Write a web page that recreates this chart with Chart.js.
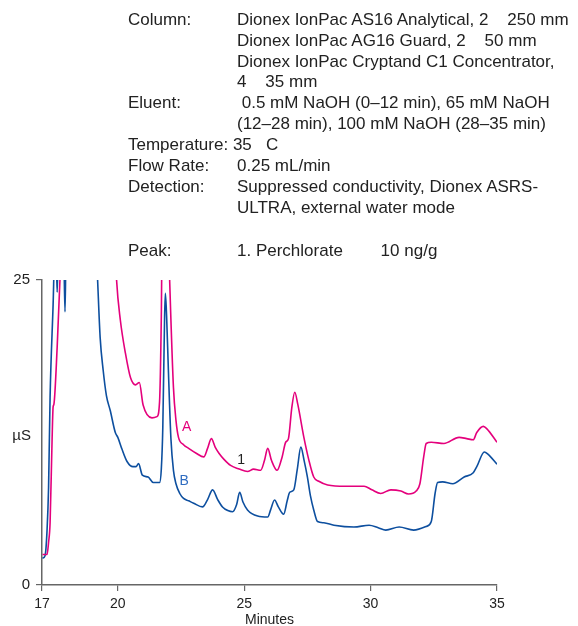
<!DOCTYPE html>
<html>
<head>
<meta charset="utf-8">
<script src="https://cdn.jsdelivr.net/npm/chart.js@4.4.1/dist/chart.umd.min.js"></script>
<style>
  html, body { margin: 0; padding: 0; background: #fff; }
  #wrap { position: relative; width: 578px; height: 626px; }
  #chart { position: absolute; left: 0; top: 0; }
  .info { position: absolute; font-family: "Liberation Sans", Arial, sans-serif; font-size: 17px; color: #222; white-space: pre; line-height: 20.8px; }
</style>
</head>
<body>
<div id="wrap">
  <canvas id="chart" width="578" height="626"></canvas>
  <div class="info" style="left:128px; top:10px;">Column:</div>
  <div class="info" style="left:237px; top:10px;">Dionex IonPac AS16 Analytical, 2    250 mm
Dionex IonPac AG16 Guard, 2    50 mm
Dionex IonPac Cryptand C1 Concentrator,
4    35 mm</div>
  <div class="info" style="left:128px; top:93px;">Eluent:</div>
  <div class="info" style="left:237px; top:93px;"> 0.5 mM NaOH (0–12 min), 65 mM NaOH
(12–28 min), 100 mM NaOH (28–35 min)</div>
  <div class="info" style="left:128px; top:135px;">Temperature: 35   C
Flow Rate:
Detection:</div>
  <div class="info" style="left:237px; top:156px;">0.25 mL/min
Suppressed conductivity, Dionex ASRS-
ULTRA, external water mode</div>
  <div class="info" style="left:128px; top:241px;">Peak:</div>
  <div class="info" style="left:237px; top:241px;">1. Perchlorate        10 ng/g</div>
</div>
<script>
// Axis ticks
const xTicks = [17, 20, 25, 30, 35];
const yTicks = [0, 25];

// Trace A (pink) - minutes / µS (values above 25 are off scale)
const timeA = [17.02, 17.2, 17.26, 17.32, 17.4, 17.44, 17.47, 17.6, 17.71, 17.78, 19.85, 19.95,
  20.1, 20.3, 20.5, 20.7, 20.85, 21.0, 21.35, 21.55, 21.65, 21.72, 21.76, 21.98, 22.05,
  22.2, 22.3, 22.4, 22.6, 22.8, 23.1, 23.4, 23.55, 23.7, 23.85, 24.0, 24.2, 24.46, 24.8,
  25.13, 25.37, 25.65, 25.8, 25.93, 26.08, 26.3, 26.5, 26.64, 26.75, 26.88, 27.0, 27.12,
  27.36, 27.55, 27.75, 27.95, 28.3, 29.0, 29.74, 30.05, 30.4, 30.8, 31.2, 31.5, 31.8,
  31.95, 32.1, 32.2, 32.4, 32.9, 33.5, 33.8, 34.06, 34.2, 34.46, 34.6, 35.0];
const signalA = [2.5, 2.5, 3.5, 5.1, 12, 14.6, 14.8, 19.5, 25, 30, 30, 25,
  21.7, 19.0, 17.0, 16.4, 16.6, 14.75, 13.7, 13.8, 15, 22, 30, 30, 25,
  16.2, 13.5, 12.1, 11.5, 11.2, 10.8, 10.5, 11.2, 12.0, 11.3, 10.8, 10.3, 9.8, 9.5,
  9.3, 9.5, 9.4, 10.2, 11.2, 10.2, 9.4, 10.5, 11.7, 12.0, 14.5, 15.8, 14.8,
  12.1, 10.3, 8.85, 8.5, 8.2, 8.1, 8.1, 7.8, 7.5, 7.8, 7.7, 7.46, 7.7,
  8.3, 10.5, 11.6, 11.7, 11.6, 12.1, 12.0, 11.9, 12.5, 13.0, 12.8, 11.7];

// Trace B (blue)
const timeB = [17.02, 17.12, 17.2, 17.26, 17.32, 17.44, 17.5, 17.56, 17.6, 17.64, 17.86, 17.91,
  17.95, 19.1, 19.2, 19.3, 19.42, 19.55, 19.7, 19.9, 20.0, 20.17, 20.37, 20.6, 20.72,
  20.82, 20.97, 21.2, 21.4, 21.65, 21.72, 21.78, 21.85, 21.88, 21.93, 22.0, 22.1, 22.2,
  22.3, 22.45, 22.6, 22.8, 23.0, 23.35, 23.55, 23.75, 23.95, 24.14, 24.35, 24.54, 24.7,
  24.82, 24.95, 25.13, 25.53, 25.93, 26.05, 26.2, 26.35, 26.56, 26.7, 26.8, 26.96, 27.1,
  27.24, 27.37, 27.5, 27.62, 27.75, 27.9, 28.15, 28.55, 29.34, 29.94, 30.3, 30.6, 31.13,
  31.7, 32.2, 32.4, 32.55, 32.65, 32.85, 33.25, 33.7, 34.06, 34.2, 34.5, 34.65, 35.0];
const signalB = [2.2, 2.4, 4.5, 8, 15.4, 23, 27, 27, 24, 27, 27, 22.4,
  27, 30, 25, 20.3, 17.6, 15.5, 14.3, 12.5, 12.1, 11.1, 10.1, 9.7, 9.7,
  9.95, 9.0, 8.85, 8.4, 8.4, 9.5, 13, 22, 23.9, 22, 17.6, 12, 9.4,
  8.3, 7.5, 7.1, 6.9, 6.7, 6.4, 7.0, 7.8, 7.0, 6.4, 6.1, 6.0, 6.6,
  7.6, 6.8, 6.15, 5.65, 5.57, 6.2, 6.97, 6.4, 5.8, 6.9, 7.6, 7.8, 9.5,
  11.3, 10.2, 8.85, 7.3, 6.15, 5.2, 5.1, 4.9, 4.75, 4.9, 4.7, 4.5, 4.75,
  4.5, 4.8, 5.2, 7.5, 8.4, 8.45, 8.3, 8.85, 9.2, 9.7, 10.9, 10.7, 9.9];

// Labels placed on the plot: [text, minutes, µS, color]
const traceLabels = [
  ['A', 22.72, 12.9, '#e4007c'],
  ['B', 22.62, 8.5, '#2f6cc0'],
  ['1', 24.88, 10.2, '#222']
];

const toPoints = (xs, ys) => xs.map((x, i) => ({ x: x, y: ys[i] }));

const labelPlugin = {
  id: 'traceLabels',
  afterDatasetsDraw(chart) {
    const { ctx, scales } = chart;
    ctx.save();
    ctx.font = '14px "Liberation Sans", Arial, sans-serif';
    ctx.textAlign = 'center';
    ctx.textBaseline = 'middle';
    traceLabels.forEach(([t, x, y, c]) => {
      ctx.fillStyle = c;
      ctx.fillText(t, scales.x.getPixelForValue(x), scales.y.getPixelForValue(y));
    });
    // unit label on the y axis
    ctx.fillStyle = '#222';
    ctx.textAlign = 'right';
    ctx.font = '15px "Liberation Sans", Arial, sans-serif';
    ctx.fillText('µS', 31, scales.y.getPixelForValue(12.2));
    ctx.restore();
  }
};

new Chart(document.getElementById('chart'), {
  type: 'line',
  data: {
    datasets: [
      {
        label: 'A',
        data: toPoints(timeA, signalA),
        borderColor: '#e4007c',
        borderWidth: 1.6,
        pointRadius: 0,
        cubicInterpolationMode: 'monotone'
      },
      {
        label: 'B',
        data: toPoints(timeB, signalB),
        borderColor: '#0d4f9f',
        borderWidth: 1.6,
        pointRadius: 0,
        cubicInterpolationMode: 'monotone'
      }
    ]
  },
  options: {
    responsive: false,
    animation: false,
    layout: { padding: { top: 280, left: 0, right: 81, bottom: 0 } },
    plugins: { legend: { display: false }, tooltip: { enabled: false } },
    scales: {
      x: {
        type: 'linear',
        min: 17,
        max: 35,
        afterBuildTicks: s => { s.ticks = xTicks.map(v => ({ value: v })); },
        afterFit: s => { s.height = 41; },
        grid: { drawOnChartArea: false, tickLength: 6, color: '#666', lineWidth: 1.2 },
        border: { color: '#666', width: 1.5 },
        ticks: { color: '#222', padding: 5, maxRotation: 0, font: { family: '"Liberation Sans", Arial, sans-serif', size: 14 } },
        title: { display: true, text: 'Minutes', color: '#222', padding: { top: 0, bottom: -3 }, font: { family: '"Liberation Sans", Arial, sans-serif', size: 14 } }
      },
      y: {
        min: 0,
        max: 25,
        afterBuildTicks: s => { s.ticks = yTicks.map(v => ({ value: v })); },
        afterFit: s => { s.width = 42; },
        grid: { drawOnChartArea: false, tickLength: 6, color: '#666', lineWidth: 1.2 },
        border: { color: '#666', width: 1.5 },
        ticks: { color: '#222', padding: 6, font: { family: '"Liberation Sans", Arial, sans-serif', size: 15 } }
      }
    }
  },
  plugins: [labelPlugin]
});
</script>
</body>
</html>
